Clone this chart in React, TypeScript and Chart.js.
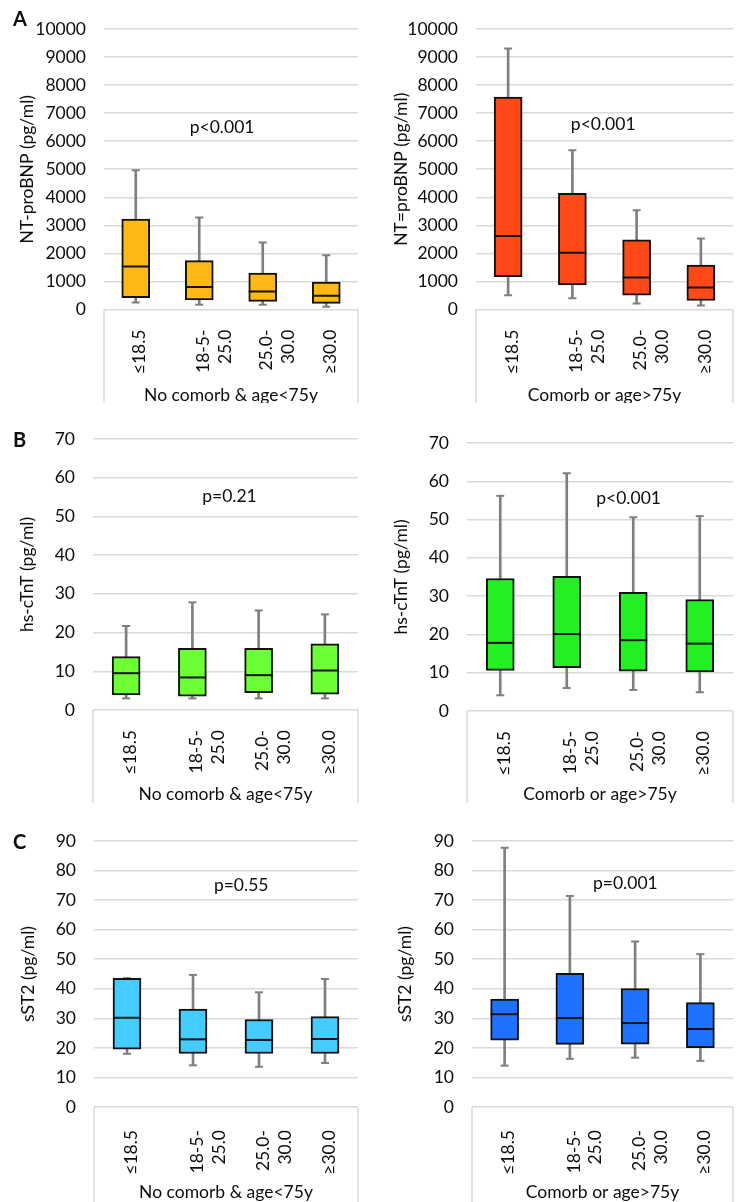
import React, { useEffect, useRef } from 'react';
import { Chart, registerables } from 'chart.js';

Chart.register(...registerables);

// ---- data ----
const categories: (string | string[])[] = ['≤18.5', ['18-5-', '25.0'], ['25.0-', '30.0'], '≥30.0'];
const groupTitles = ['No comorb & age<75y', 'Comorb or age>75y'];

// each entry: [whisker low, Q1, median, Q3, whisker high]
const ntproNoComorb = [
  [250, 420, 1530, 3220, 4960],
  [170, 340, 800, 1740, 3280],
  [170, 290, 640, 1300, 2390],
  [100, 220, 490, 980, 1930],
];
const ntproComorb = [
  [510, 1170, 2620, 7570, 9300],
  [400, 880, 2020, 4140, 5680],
  [210, 510, 1140, 2480, 3540],
  [140, 320, 780, 1580, 2530],
];
const tntNoComorb = [
  [3.0, 3.9, 9.5, 13.8, 21.7],
  [3.0, 3.6, 8.4, 15.9, 27.8],
  [3.0, 4.5, 9.0, 15.9, 25.7],
  [3.0, 4.1, 10.2, 17.1, 24.7],
];
const tntComorb = [
  [4.1, 10.6, 17.8, 34.6, 56.2],
  [6.0, 11.3, 20.1, 35.2, 62.1],
  [5.5, 10.4, 18.5, 31.0, 50.6],
  [4.9, 10.2, 17.6, 29.1, 50.9],
];
const st2NoComorb = [
  [18.0, 19.6, 30.2, 43.5, 43.6],
  [14.1, 18.1, 22.9, 33.1, 44.7],
  [13.6, 18.1, 22.7, 29.6, 38.8],
  [14.9, 18.1, 23.0, 30.6, 43.3],
];
const st2Comorb = [
  [14.0, 22.6, 31.4, 36.5, 87.7],
  [16.3, 21.2, 30.1, 45.2, 71.4],
  [16.7, 21.3, 28.4, 40.1, 56.0],
  [15.6, 20.1, 26.4, 35.3, 51.7],
];
const pValues = ['p<0.001', 'p<0.001', 'p=0.21', 'p<0.001', 'p=0.55', 'p=0.001'];
const yTitles = ['NT-proBNP (pg/ml)', 'NT=proBNP (pg/ml)', 'hs-cTnT (pg/ml)', 'hs-cTnT (pg/ml)', 'sST2 (pg/ml)', 'sST2 (pg/ml)'];
const yMaxes = [10000, 10000, 70, 70, 90, 90];
const ySteps = [1000, 1000, 10, 10, 10, 10];

// ---- styling / layout ----
const FONT = 'Lato';
const FS = 17.5;
const TEXT = '#0d0d0d';
const WHISKER = '#7F7F7F';
const GRID = '#D9D9D9';

type PanelCfg = {
  stats: number[][];
  color: string;
  yMax: number;
  step: number;
  yTitle: string;
  xTitle: string;
  p: string;
  px: number;
  py: number;
  x: number; y: number; w: number; h: number;
  left: number; padTop: number; padRight: number; bottom: number;
  xTickPad: number; xTitlePad: number; yTitlePad: number;
};

const panels: PanelCfg[] = [
  { stats: ntproNoComorb, color: '#FFB914', yMax: yMaxes[0], step: ySteps[0], yTitle: yTitles[0], xTitle: groupTitles[0], p: pValues[0], px: 1.36, py: 6500,
    x: 0, y: 0, w: 374, h: 403, left: 104, padTop: 17, padRight: 2, bottom: 309.5, xTickPad: 12, xTitlePad: -3, yTitlePad: 16 },
  { stats: ntproComorb, color: '#FF4A17', yMax: yMaxes[1], step: ySteps[1], yTitle: yTitles[1], xTitle: groupTitles[1], p: pValues[1], px: 1.48, py: 6600,
    x: 374, y: 0, w: 375, h: 403, left: 102, padTop: 17, padRight: 3, bottom: 309.5, xTickPad: 12, xTitlePad: -3, yTitlePad: 16 },
  { stats: tntNoComorb, color: '#6CFF33', yMax: yMaxes[2], step: ySteps[2], yTitle: yTitles[2], xTitle: groupTitles[0], p: pValues[2], px: 1.56, py: 55.3,
    x: 0, y: 403, w: 374, h: 400, left: 93, padTop: 36, padRight: 2, bottom: 307, xTickPad: 12, xTitlePad: -2, yTitlePad: 16.5 },
  { stats: tntComorb, color: '#22F022', yMax: yMaxes[3], step: ySteps[3], yTitle: yTitles[3], xTitle: groupTitles[1], p: pValues[3], px: 1.93, py: 55.5,
    x: 374, y: 403, w: 375, h: 400, left: 93, padTop: 40, padRight: 3, bottom: 308, xTickPad: 12, xTitlePad: -2, yTitlePad: 16 },
  { stats: st2NoComorb, color: '#45CCFF', yMax: yMaxes[4], step: ySteps[4], yTitle: yTitles[4], xTitle: groupTitles[0], p: pValues[4], px: 1.73, py: 75.1,
    x: 0, y: 803, w: 374, h: 399, left: 94, padTop: 38, padRight: 1, bottom: 304, xTickPad: 15, xTitlePad: -1, yTitlePad: 17 },
  { stats: st2Comorb, color: '#1F72FF', yMax: yMaxes[5], step: ySteps[5], yTitle: yTitles[5], xTitle: groupTitles[1], p: pValues[5], px: 1.85, py: 75.8,
    x: 374, y: 803, w: 375, h: 399, left: 98, padTop: 38, padRight: 0, bottom: 304, xTickPad: 15, xTitlePad: -1, yTitlePad: 20 },
];

const letters = [
  { t: 'A', x: 13, y: 8 },
  { t: 'B', x: 13, y: 429 },
  { t: 'C', x: 13, y: 831 },
];

const extrasPlugin = {
  id: 'extras',
  afterDraw(chart: any, _args: any, opts: any) {
    const { ctx, chartArea } = chart;
    ctx.save();
    ctx.strokeStyle = GRID;
    ctx.lineWidth = 1.5;
    [chartArea.left, chartArea.right].forEach((x: number) => {
      ctx.beginPath();
      ctx.moveTo(x, chartArea.bottom);
      ctx.lineTo(x, chart.height);
      ctx.stroke();
    });
    const xs = chart.scales.x;
    const ys = chart.scales.y;
    ctx.font = `${FS}px ${FONT}`;
    ctx.fillStyle = TEXT;
    ctx.textAlign = 'center';
    ctx.textBaseline = 'middle';
    ctx.fillText(opts.text, xs.getPixelForValue(opts.x), ys.getPixelForValue(opts.y));
    ctx.restore();
  },
};

function buildConfig(p: PanelCfg): any {
  const font = { family: FONT, size: FS, lineHeight: 1.25 };
  return {
    type: 'bar',
    data: {
      labels: categories,
      datasets: [
        {
          type: 'bar',
          data: p.stats.map((s) => [s[0], s[4]]),
          backgroundColor: WHISKER,
          barThickness: 2,
          grouped: false,
          order: 5,
        },
        {
          type: 'line',
          data: p.stats.map((s) => s[0]),
          showLine: false,
          pointStyle: 'line',
          pointRadius: 4,
          pointBorderWidth: 2,
          pointBorderColor: WHISKER,
          order: 4,
        },
        {
          type: 'line',
          data: p.stats.map((s) => s[4]),
          showLine: false,
          pointStyle: 'line',
          pointRadius: 4,
          pointBorderWidth: 2,
          pointBorderColor: WHISKER,
          order: 4,
        },
        {
          type: 'bar',
          data: p.stats.map((s) => [s[1], s[3]]),
          backgroundColor: p.color,
          borderColor: '#111111',
          borderWidth: 2,
          borderSkipped: false,
          barThickness: 28,
          grouped: false,
          order: 2,
        },
        {
          type: 'line',
          data: p.stats.map((s) => s[2]),
          showLine: false,
          pointStyle: 'line',
          pointRadius: 14,
          pointBorderWidth: 2,
          pointBorderColor: '#111111',
          order: 1,
        },
      ],
    },
    options: {
      responsive: false,
      animation: false,
      events: [],
      layout: { padding: { left: 0, top: p.padTop, right: p.padRight, bottom: 0 } },
      plugins: {
        legend: { display: false },
        tooltip: { enabled: false },
        extras: { text: p.p, x: p.px, y: p.py },
      },
      scales: {
        x: {
          grid: { display: false },
          border: { display: false },
          ticks: {
            minRotation: 90,
            maxRotation: 90,
            autoSkip: false,
            padding: p.xTickPad,
            labelOffset: 4,
            color: TEXT,
            font,
          },
          title: {
            display: true,
            text: p.xTitle,
            color: TEXT,
            font,
            padding: { top: 0, bottom: p.xTitlePad },
          },
          afterFit: (s: any) => {
            s.height = p.h - p.bottom;
          },
        },
        y: {
          min: 0,
          max: p.yMax,
          grid: { color: GRID, lineWidth: 1.5, drawTicks: false },
          border: { display: false },
          ticks: {
            stepSize: p.step,
            padding: 18,
            color: TEXT,
            font,
            callback: (v: any) => String(v),
          },
          title: {
            display: true,
            text: p.yTitle,
            color: TEXT,
            font,
            padding: { top: p.yTitlePad, bottom: 0 },
          },
          afterFit: (s: any) => {
            s.width = p.left;
          },
        },
      },
    },
    plugins: [extrasPlugin],
  };
}

function Panel({ cfg }: { cfg: PanelCfg }) {
  const ref = useRef<HTMLCanvasElement>(null);
  useEffect(() => {
    if (!ref.current) return;
    const chart = new Chart(ref.current, buildConfig(cfg));
    return () => chart.destroy();
  }, [cfg]);
  return (
    <canvas
      ref={ref}
      width={cfg.w}
      height={cfg.h}
      style={{ position: 'absolute', left: cfg.x, top: cfg.y, width: cfg.w, height: cfg.h }}
    />
  );
}

export default function App() {
  return (
    <div style={{ position: 'absolute', left: 0, top: 0, width: 749, height: 1202, background: '#fff', overflow: 'hidden' }}>
      {panels.map((p, i) => (
        <Panel key={i} cfg={p} />
      ))}
      {letters.map((l) => (
        <div
          key={l.t}
          style={{
            position: 'absolute',
            left: l.x,
            top: l.y,
            fontFamily: FONT,
            fontWeight: 'bold',
            fontSize: 20,
            lineHeight: '20px',
            color: TEXT,
          }}
        >
          {l.t}
        </div>
      ))}
    </div>
  );
}
